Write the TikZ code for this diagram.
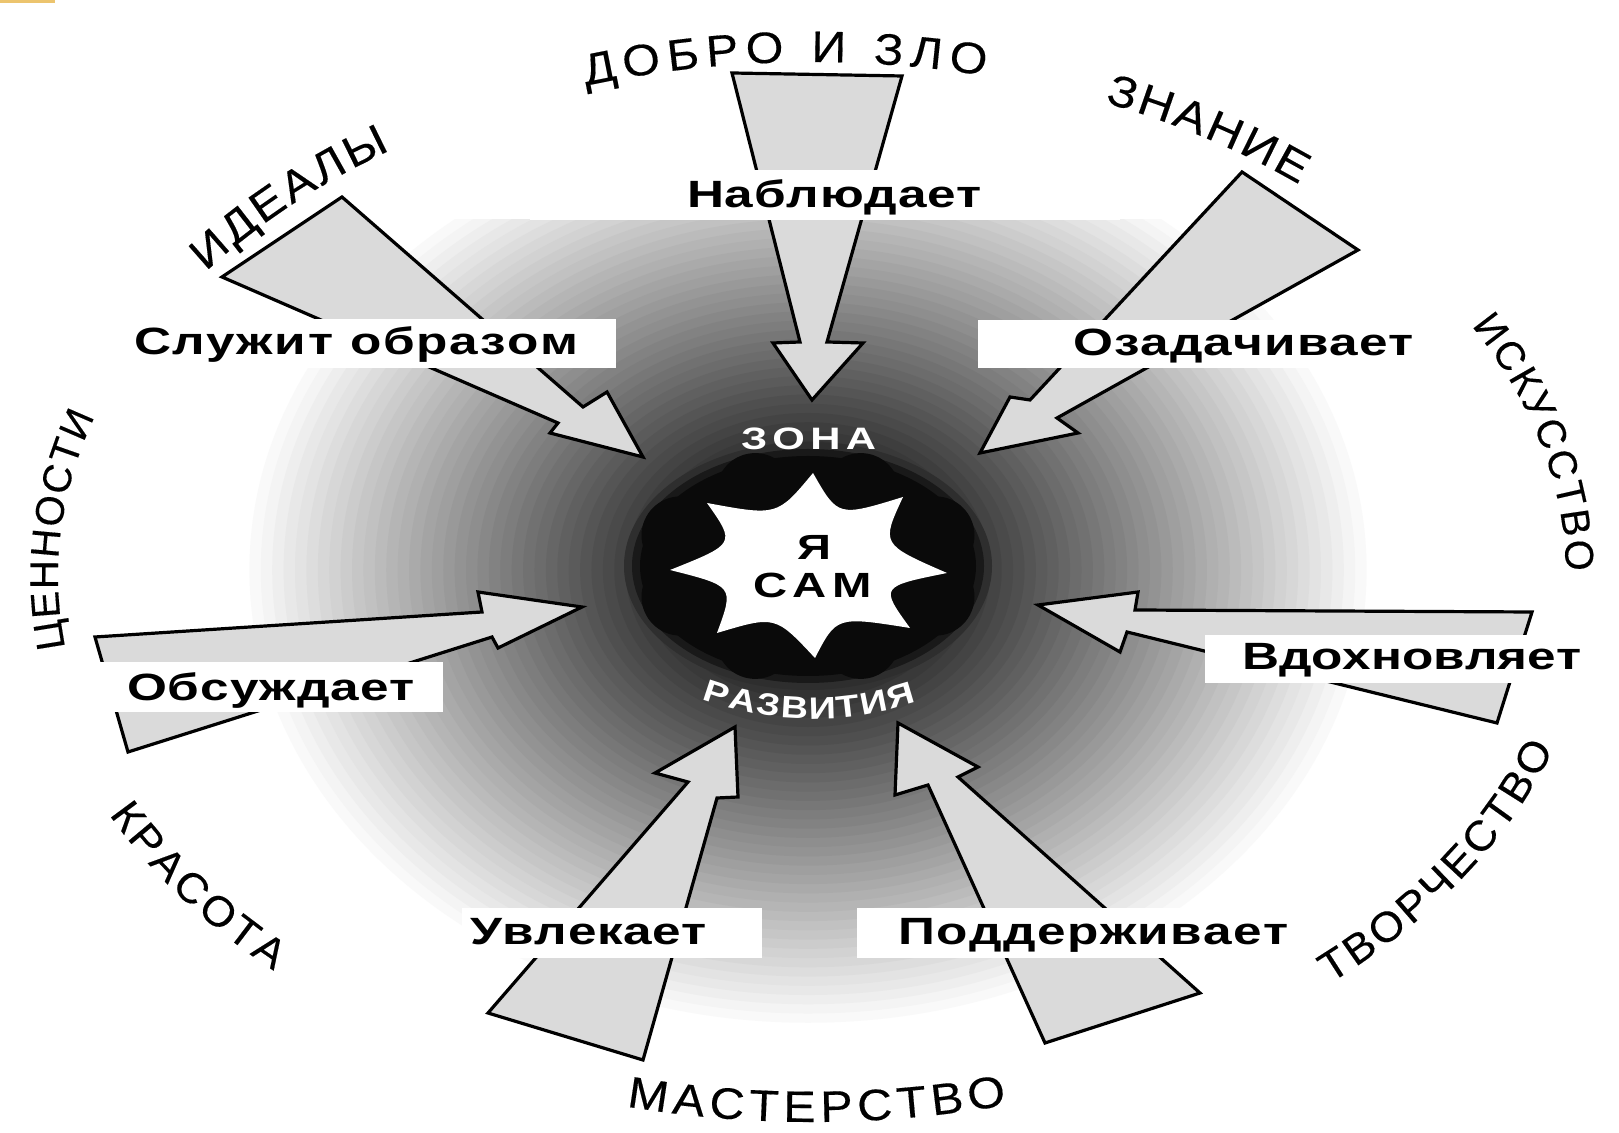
\documentclass[tikz,border=0pt]{standalone}
\usepackage{fontspec}
\setmainfont{Liberation Sans}
\newfontfamily\lblfont[FakeStretch=1.35]{Liberation Sans}
\newfontfamily\ringfont[FakeStretch=1.22]{Liberation Sans}
\newfontfamily\outfont[FakeStretch=1.05,FakeBold=0.3]{Liberation Sans}
\newfontfamily\outfontw[FakeStretch=1.1,FakeBold=0.3]{Liberation Sans}
\newfontfamily\outfontb[FakeBold=0.3]{Liberation Sans}
\usetikzlibrary{decorations.text}
\definecolor{arrowgray}{RGB}{218,218,218}
\definecolor{markgold}{RGB}{236,196,110}
\newcommand\lblstyle{\lblfont\bfseries\fontsize{38}{40}\selectfont}
\newcommand\ringstyle{\ringfont\bfseries\fontsize{31}{33}\selectfont}
\newcommand\zonastyle{\lblfont\bfseries\fontsize{31}{33}\selectfont}
\newcommand\centstyle{\lblfont\bfseries\fontsize{35}{37}\selectfont}
\newcommand\outstyle{\outfont\fontsize{42}{44}\selectfont}
\newcommand\outstylew{\outfontw\fontsize{44}{46}\selectfont}
\newcommand\outstyleb{\outfontb\fontsize{40}{42}\selectfont}
\tikzset{
  arr/.style={fill=arrowgray, draw=black, line width=3.2pt, line join=miter},
  lblbox/.style={fill=white},
  lbltext/.style={decorate, decoration={text along path, text align=fit to path, text={|\lblstyle|#1}}},
  ringtext/.style={decorate, decoration={text along path, text align=fit to path, text color=white, text={|\ringstyle|#1}}},
  zonatext/.style={decorate, decoration={text along path, text align=fit to path, text color=white, text={|\zonastyle|#1}}},
  centtext/.style={decorate, decoration={text along path, text align=fit to path, text={|\centstyle|#1}}},
  outtext/.style={decorate, decoration={text along path, text align=fit to path, text={|\outstyle|#1}}},
  outtextw/.style={decorate, decoration={text along path, text align=fit to path, text={|\outstylew|#1}}},
  outtextb/.style={decorate, decoration={text along path, text align=fit to path, text={|\outstyleb|#1}}}
}
\begin{document}
\begin{tikzpicture}[x=1pt,y=1pt]
\useasboundingbox (0,0) rectangle (1619,1132);
\fill[white] (0,0) rectangle (1619,1132);
\fill[markgold] (0,1129) rectangle (55,1132);

% radial background gradient, cut off at the top
\begin{scope}
\clip (0,0) rectangle (1619,912);
\foreach \i in {0,...,36} {
  \pgfmathsetmacro\f{1-0.02*\i}
  \pgfmathsetmacro\p{min(80,80*(1-\f)/0.72)}
  \pgfmathsetmacro\rx{570*\f}
  \pgfmathsetmacro\ry{462*\f}
  \fill[black!\p] (808,562) ellipse[x radius=\rx pt, y radius=\ry pt];
}
\end{scope}

% dark core with scalloped blobs
\fill[black!82] (808,566) ellipse[x radius=184pt, y radius=124pt];
\fill[black!90] (808,566) ellipse[x radius=176pt, y radius=117pt];
\fill[black!96] (808,566) ellipse[x radius=168pt, y radius=110pt];
\foreach \a in {22.5,67.5,...,337.5} {
  \fill[black!96] (808,566) ++(\a:138pt and 80pt) circle[radius=39pt];
}

% white star
\fill[white] (947,559) .. controls (880,545.5) .. (910,504)
  .. controls (836.5,515.7) .. (815,474)
  .. controls (775.3,516.5) .. (717,499)
  .. controls (734.2,545.8) .. (670,562)
  .. controls (735.8,588.2) .. (707,629)
  .. controls (777.3,616) .. (813,659)
  .. controls (838,615) .. (903,635)
  .. controls (881,587.7) .. (947,559) -- cycle;

\node[font=\centstyle, inner sep=0pt] (ya) at (814,585) {Я};
\path[centtext=САМ] (753,534) -- (872,534);

% ring words
\path[zonatext=ЗОНА] (741,682) -- (876,682);
\path[ringtext=РАЗВИТИЯ] (813,733) ++(-110.3:320pt) arc[start angle=-110.3, end angle=-71.2, radius=320pt];

% arrows
\draw[arr] (732,1059) -- (902,1056) -- (827,790) -- (863,789) -- (812,732) -- (773,789) -- (800,790) -- cycle;
\draw[arr] (342,935) -- (583,725) -- (607,740) -- (643,675) -- (550,699) -- (558,709) -- (222,855) -- cycle;
\draw[arr] (1242,960) -- (1030,732) -- (1010,735) -- (980,679) -- (1078,699) -- (1057,714) -- (1358,882) -- cycle;
\draw[arr] (95,495) -- (482,520) -- (478,540) -- (582,525) -- (498,484) -- (492,495) -- (128,380) -- cycle;
\draw[arr] (1532,520) -- (1135,522) -- (1138,540) -- (1038,527) -- (1120,480) -- (1127,500) -- (1497,409) -- cycle;
\draw[arr] (488,119) -- (688,350) -- (655,359) -- (735,405) -- (738,335) -- (717,334) -- (643,72) -- cycle;
\draw[arr] (1045,89) -- (928,347) -- (895,337) -- (898,409) -- (978,365) -- (958,355) -- (1200,139) -- cycle;

% label boxes
\fill[lblbox] (530,912) rectangle (1120,962);
\fill[lblbox] (110,764) rectangle (616,813);
\fill[lblbox] (978,764) rectangle (1425,812);
\fill[lblbox] (100,420) rectangle (443,470);
\fill[lblbox] (1205,449) rectangle (1595,497);
\fill[lblbox] (462,174) rectangle (762,224);
\fill[lblbox] (857,174) rectangle (1296,224);

% label texts
\path[lbltext=Наблюдает] (687,924) -- (982,924);
\path[lbltext=Служит образом] (134,777) -- (578,777);
\path[lbltext=Озадачивает] (1073,776) -- (1414,776);
\path[lbltext=Обсуждает] (127,431) -- (415,431);
\path[lbltext=Вдохновляет] (1242,462) -- (1578,462);
\path[lbltext=Увлекает] (470,187) -- (707,187);
\path[lbltext=Поддерживает] (898,187) -- (1289,187);

% outer words
\path[outtextw=ДОБРО И ЗЛО] (812,556) ++(107.5:752pt and 514pt) arc[start angle=107.5, end angle=76.7, x radius=752pt, y radius=514pt];
\path[outtextw=ЗНАНИЕ] (812,556) ++(67.1:752pt and 514pt) arc[start angle=67.1, end angle=49.6, x radius=752pt, y radius=514pt];
\path[outtextb=ИСКУССТВО] (812,556) ++(29:754pt and 516pt) arc[start angle=29, end angle=0.5, x radius=754pt, y radius=516pt];
\path[outtextb=ЦЕННОСТИ] (812,556) ++(188:754pt and 516pt) arc[start angle=188, end angle=162, x radius=754pt, y radius=516pt];
\path[outtextw=ИДЕАЛЫ] (812,556) ++(143.7:752pt and 514pt) arc[start angle=143.7, end angle=124.1, x radius=752pt, y radius=514pt];
\path[outtext=ТВОРЧЕСТВО] (812,556) ++(-48.5:782pt and 544pt) arc[start angle=-48.5, end angle=-18.5, x radius=782pt, y radius=544pt];
\path[outtextw=МАСТЕРСТВО] (812,556) ++(-103.7:784pt and 546pt) arc[start angle=-103.7, end angle=-75.6, x radius=784pt, y radius=546pt];
\path[outtext=КРАСОТА] (812,556) ++(206:782pt and 544pt) arc[start angle=206, end angle=226.5, x radius=782pt, y radius=544pt];
\end{tikzpicture}
\end{document}
